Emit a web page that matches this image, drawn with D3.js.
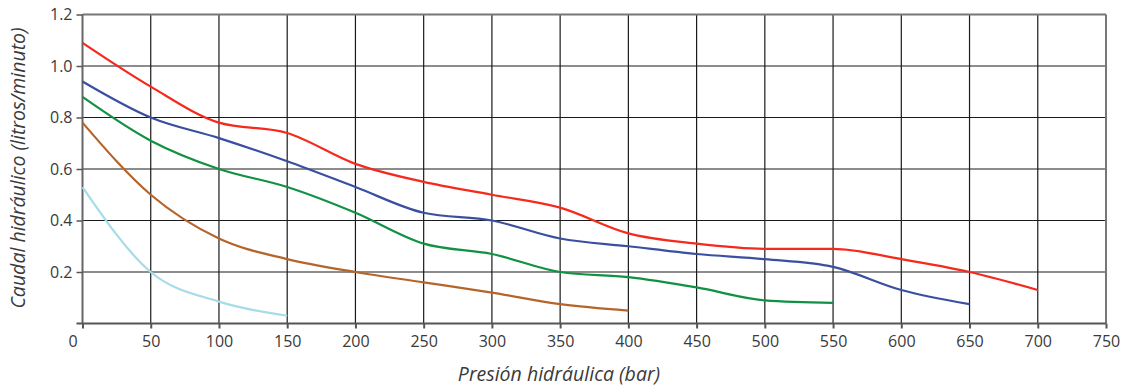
<!DOCTYPE html>
<html>
<head>
<meta charset="utf-8">
<script src="https://cdn.jsdelivr.net/npm/d3@7"></script>
<style>
  html, body { margin: 0; padding: 0; background: #fff; }
  svg { display: block; }
  text { font-family: "Open Sans", "DejaVu Sans", sans-serif; fill: #3a3a3a; }
</style>
</head>
<body>
<svg id="chart" width="1137" height="387"></svg>
<script>
// ---- Data ----
const xTicks = [0, 50, 100, 150, 200, 250, 300, 350, 400, 450, 500, 550, 600, 650, 700, 750];
const yTicks = [0.2, 0.4, 0.6, 0.8, 1.0, 1.2];
const xLabel = "Presión hidráulica (bar)";
const yLabel = "Caudal hidráulico  (litros/minuto)";

const redX = [0, 50, 100, 150, 200, 250, 300, 350, 400, 450, 500, 550, 600, 650, 700];
const redY = [1.09, 0.92, 0.78, 0.74, 0.62, 0.55, 0.50, 0.45, 0.35, 0.31, 0.29, 0.29, 0.25, 0.20, 0.13];

const blueX = [0, 50, 100, 150, 200, 250, 300, 350, 400, 450, 500, 550, 600, 650];
const blueY = [0.94, 0.80, 0.72, 0.63, 0.53, 0.43, 0.40, 0.33, 0.30, 0.27, 0.25, 0.22, 0.13, 0.075];

const greenX = [0, 50, 100, 150, 200, 250, 300, 350, 400, 450, 500, 550];
const greenY = [0.88, 0.71, 0.60, 0.53, 0.43, 0.31, 0.27, 0.20, 0.18, 0.14, 0.09, 0.08];

const brownX = [0, 50, 100, 150, 200, 250, 300, 350, 400];
const brownY = [0.78, 0.50, 0.33, 0.25, 0.20, 0.16, 0.12, 0.075, 0.05];

const lightX = [0, 50, 100, 150];
const lightY = [0.53, 0.20, 0.085, 0.03];

const seriesNames = ["rojo", "azul", "verde", "marrón", "celeste"];
const seriesColors = ["#f5291c", "#3a4fa0", "#119143", "#b5652a", "#a6dbe8"];
const seriesXs = [redX, blueX, greenX, brownX, lightX];
const seriesYs = [redY, blueY, greenY, brownY, lightY];

// ---- Layout ----
const svg = d3.select("#chart");
const mLeft = 82.5, mRight = 1106, mTop = 14.5, mBottom = 323.5;

const x = d3.scaleLinear().domain([0, 750]).range([mLeft, mRight]);
const y = d3.scaleLinear().domain([0, 1.2]).range([mBottom, mTop]);

// grid
const grid = svg.append("g");
grid.selectAll("line.v").data(xTicks.filter(d => d > 0 && d < 750)).enter().append("line")
  .attr("x1", d => x(d)).attr("x2", d => x(d))
  .attr("y1", y(1.2)).attr("y2", y(0))
  .attr("stroke", "#1a1a1a").attr("stroke-width", 1.2);
grid.selectAll("line.h").data(yTicks.filter(d => d < 1.2)).enter().append("line")
  .attr("x1", x(0)).attr("x2", x(750))
  .attr("y1", d => y(d)).attr("y2", d => y(d))
  .attr("stroke", "#1a1a1a").attr("stroke-width", 1.2);

// frame top & right
svg.append("line").attr("x1", x(0)).attr("x2", x(750)).attr("y1", y(1.2)).attr("y2", y(1.2))
  .attr("stroke", "#777").attr("stroke-width", 2);
svg.append("line").attr("x1", x(750)).attr("x2", x(750)).attr("y1", y(1.2)).attr("y2", y(0))
  .attr("stroke", "#777").attr("stroke-width", 2);

// axes
const xAxis = d3.axisBottom(x).tickValues(xTicks).tickSize(5).tickPadding(7).tickFormat(d3.format("d"));
const gx = svg.append("g").attr("transform", `translate(0,${mBottom})`).call(xAxis);
gx.select(".domain").attr("stroke", "#555").attr("stroke-width", 2).attr("d", `M${mLeft - 6},0H${mRight}`);
gx.selectAll(".tick line").attr("stroke", "#555").attr("stroke-width", 2);
gx.selectAll(".tick text").style("font-size", "16px").attr("fill", "#3a3a3a");
gx.selectAll(".tick").filter(d => d === 0).select("text").attr("dx", -10);

const yAxis = d3.axisLeft(y).tickValues(yTicks).tickSize(6).tickPadding(4).tickFormat(d3.format(".1f"));
const gy = svg.append("g").attr("transform", `translate(${mLeft},0)`).call(yAxis);
gy.select(".domain").attr("stroke", "#666").attr("stroke-width", 2).attr("d", `M0,${mTop}V${mBottom}`);
gy.selectAll(".tick line").attr("stroke", "#555").attr("stroke-width", 1.5);
gy.selectAll(".tick text").style("font-size", "16px").attr("fill", "#3a3a3a");

// series
const line = d3.line().x(d => x(d[0])).y(d => y(d[1])).curve(d3.curveMonotoneX);
seriesNames.forEach((name, i) => {
  const pts = seriesXs[i].map((v, j) => [v, seriesYs[i][j]]);
  svg.append("path").datum(pts)
    .attr("d", line)
    .attr("fill", "none")
    .attr("stroke", seriesColors[i])
    .attr("stroke-width", 2.2)
    .attr("data-name", name);
});

// axis titles
svg.append("text").attr("x", 559).attr("y", 381).attr("text-anchor", "middle")
  .style("font-size", "19.5px").style("font-style", "italic").attr("fill", "#3a3a3a").text(xLabel);
svg.append("text").attr("transform", `translate(25,168) rotate(-90)`).attr("text-anchor", "middle")
  .style("font-size", "19.5px").style("font-style", "italic").attr("fill", "#3a3a3a").text(yLabel);
</script>
</body>
</html>
